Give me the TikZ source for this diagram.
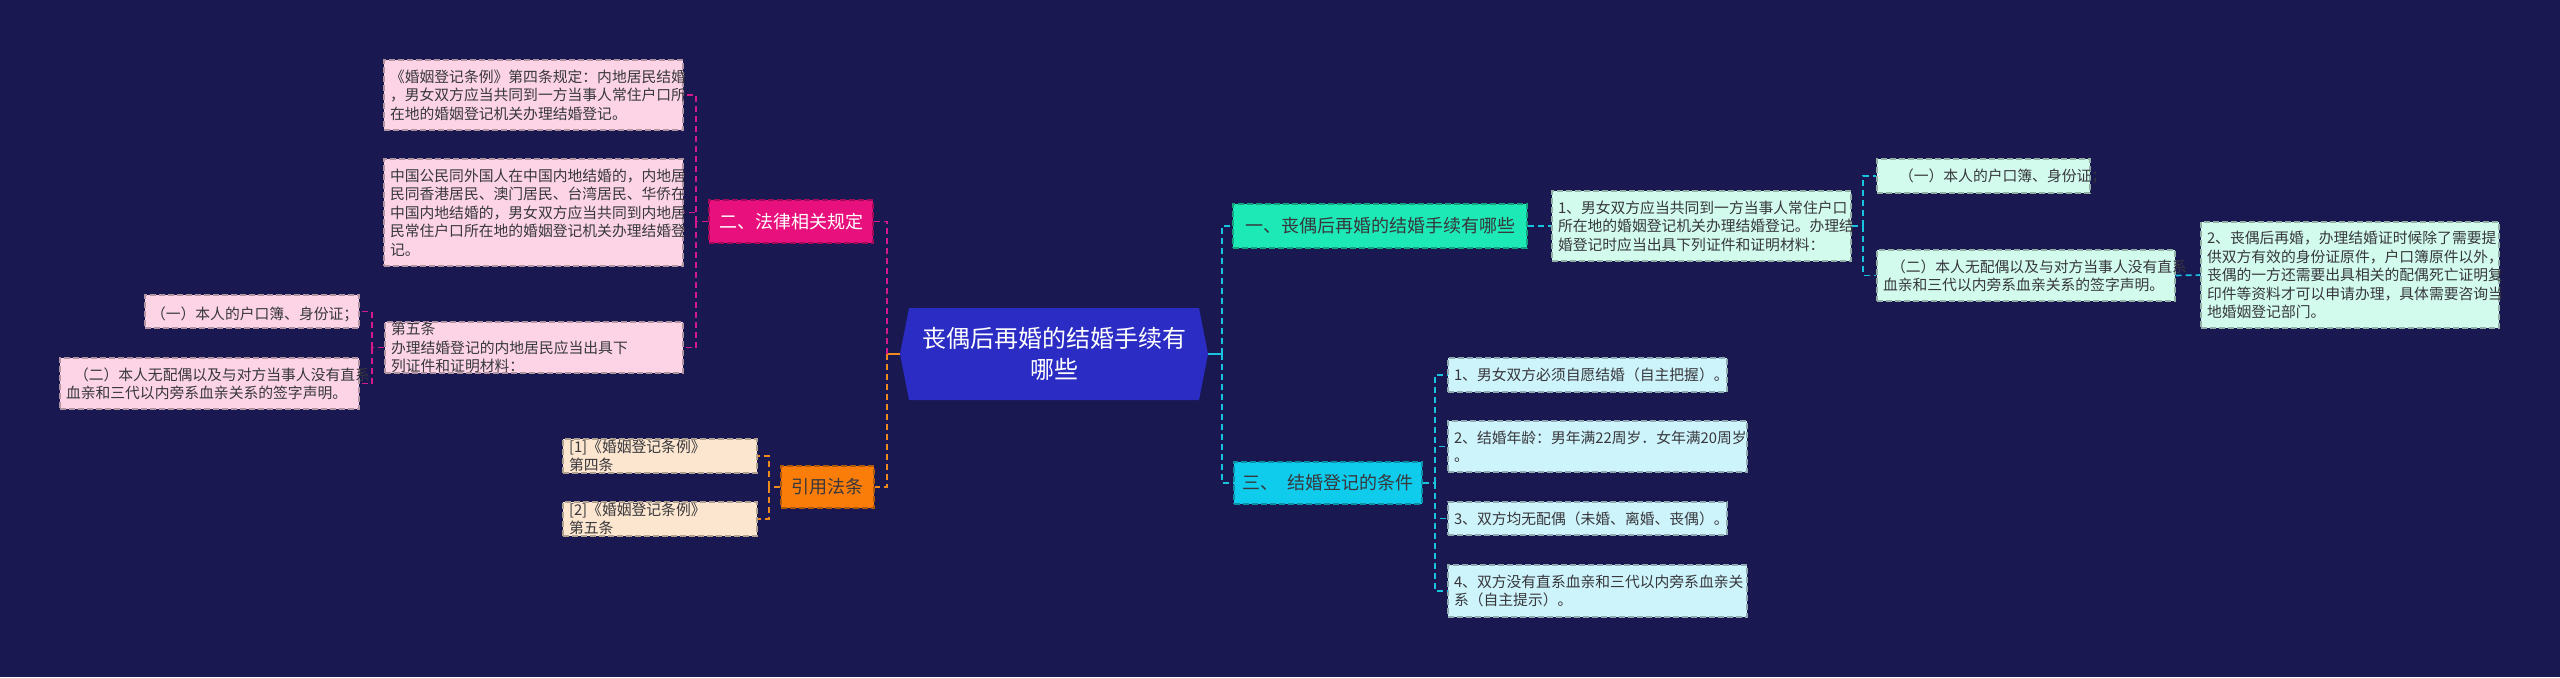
\documentclass[tikz,border=0pt]{standalone}
\usepackage{fontspec}
\setmainfont{Noto Sans CJK SC}
\definecolor{bg}{RGB}{26,24,81}
\definecolor{cmain}{RGB}{43,44,196}
\definecolor{pk}{RGB}{232,16,124}
\definecolor{pkl}{RGB}{252,212,230}
\definecolor{pkline}{RGB}{214,24,138}
\definecolor{og}{RGB}{250,125,10}
\definecolor{ogl}{RGB}{253,230,207}
\definecolor{ogline}{RGB}{240,138,31}
\definecolor{tl}{RGB}{29,233,182}
\definecolor{tll}{RGB}{210,251,238}
\definecolor{cy}{RGB}{16,204,236}
\definecolor{cyl}{RGB}{205,243,251}
\definecolor{cyline}{RGB}{25,195,224}
\definecolor{txt}{RGB}{55,55,60}
\tikzset{
 box/.style={draw=#1!70!black, dashed, dash pattern=on 3pt off 1.5pt, line width=0.6pt, fill=#1, text=txt,
   font=\fontsize{7.4}{9.2}\selectfont, align=left, inner xsep=3pt, inner ysep=0pt, anchor=center},
 branch/.style={draw=#1!70!black, dashed, dash pattern=on 3pt off 1.5pt, line width=0.6pt, fill=#1,
   font=\fontsize{9}{11}\selectfont, inner sep=0pt, anchor=center, align=center},
 conn/.style={draw=#1, dashed, dash pattern=on 3pt off 2pt, line width=0.8pt},
}
\newcommand{\bx}[8]{% name, color, x1, y1, x2, y2, text width(pt), text
 \node[box=#2, minimum width={(#5-#3)*0.5pt}, minimum height={(#6-#4)*0.5pt}, text width=#7pt] (#1) at ({(#3+#5)/2},{(#4+#6)/2}) {#8};}
\begin{document}
\begin{tikzpicture}[x=0.5pt,y=-0.5pt]
\fill[bg] (0,0) rectangle (2560,677);
\useasboundingbox (0,0) rectangle (2560,677);
% center
\fill[cmain] (900,354) -- (909,308) -- (1199,308) -- (1208,354) -- (1199,400) -- (909,400) -- cycle;
\node[minimum width=154pt, minimum height=46pt, inner sep=0pt, text=white, align=center,
  font=\fontsize{12}{15.5}\selectfont] (c) at (1054,354) {丧偶后再婚的结婚手续有\\哪些};
% branches
\node[branch=pk, text=white, minimum width=82pt, minimum height=21.5pt] (law) at (791,221.5) {二、法律相关规定};
\node[branch=og, text=txt, minimum width=46.5pt, minimum height=21pt] (cite) at (827.5,487) {引用法条};
\node[branch=tl, text=txt, minimum width=147pt, minimum height=22pt] (one) at (1380,226) {一、丧偶后再婚的结婚手续有哪些};
\node[branch=cy, text=txt, minimum width=94pt, minimum height=21pt] (three) at (1328,483) {三、\ \ 结婚登记的条件};
% left leaves
\bx{a1}{pkl}{384}{60}{683}{130}{143.5}{《婚姻登记条例》第四条规定：内地居民结婚\\，男女双方应当共同到一方当事人常住户口所\\在地的婚姻登记机关办理结婚登记。}
\bx{a2}{pkl}{384}{159}{683}{266}{143.5}{中国公民同外国人在中国内地结婚的，内地居\\民同香港居民、澳门居民、台湾居民、华侨在\\中国内地结婚的，男女双方应当共同到内地居\\民常住户口所在地的婚姻登记机关办理结婚登\\记。}
\bx{a3}{pkl}{385}{322}{683}{373}{143}{第五条 办理结婚登记的内地居民应当出具下\\列证件和证明材料：}
\bx{b1}{pkl}{145}{295}{359}{328}{101}{\hfill（一）本人的户口簿、身份证；\hspace*{4pt}}
\bx{b2}{pkl}{60}{358}{359}{409}{143.5}{\hspace*{4pt}（二）本人无配偶以及与对方当事人没有直系\\血亲和三代以内旁系血亲关系的签字声明。}
\bx{l1}{ogl}{563}{439}{757}{473}{91}{[1]《婚姻登记条例》 第四条}
\bx{l2}{ogl}{563}{502}{757}{536}{91}{[2]《婚姻登记条例》 第五条}
% right leaves
\bx{r1}{tll}{1552}{191}{1851}{261}{143.5}{1、男女双方应当共同到一方当事人常住户口\\所在地的婚姻登记机关办理结婚登记。办理结\\婚登记时应当出具下列证件和证明材料：}
\bx{r2}{tll}{1877}{159}{2090}{193}{100.5}{\hspace*{8pt}（一）本人的户口簿、身份证；}
\bx{r3}{tll}{1877}{250}{2175}{301}{143}{\hspace*{4pt}（二）本人无配偶以及与对方当事人没有直系\\血亲和三代以内旁系血亲关系的签字声明。}
\bx{r4}{tll}{2201}{222}{2499}{328}{143}{2、丧偶后再婚，办理结婚证时候除了需要提\\供双方有效的身份证原件，户口簿原件以外，\\丧偶的一方还需要出具相关的配偶死亡证明复\\印件等资料才可以申请办理，具体需要咨询当\\地婚姻登记部门。}
\bx{c1}{cyl}{1448}{358}{1727}{392}{133.5}{1、男女双方必须自愿结婚（自主把握）。}
\bx{c2}{cyl}{1448}{421}{1747}{472}{143.5}{2、结婚年龄：男年满22周岁．女年满20周岁\\。}
\bx{c3}{cyl}{1448}{502}{1727}{535}{133.5}{3、双方均无配偶（未婚、离婚、丧偶）。}
\bx{c4}{cyl}{1448}{565}{1747}{617}{143.5}{4、双方没有直系血亲和三代以内旁系血亲关\\系（自主提示）。}
% junctions
\coordinate (jl) at (887,354);
\coordinate (jr) at (1222,354);
\coordinate (sl) at (696,221.5);
\coordinate (sb) at (372,347.5);
\coordinate (sc) at (769,487);
\coordinate (sr) at (1863,226);
\coordinate (s3) at (1435,483);
% connectors
\draw[ogline, line width=1.2pt] (c.west) -- (jl);
\draw[cyline, line width=1.2pt] (c.east) -- (jr);
\draw[conn=ogline] (jl) |- (cite.east);
\draw[conn=pkline] (jl) |- (law.east);
\draw[conn=cyline] (jr) |- (one.west);
\draw[conn=cyline] (jr) |- (three.west);
\draw[conn=pkline] (law.west) -- (sl);
\draw[conn=pkline] (sl) |- (a1.east);
\draw[conn=pkline] (sl) |- (a2.east);
\draw[conn=pkline] (sl) |- (a3.east);
\draw[conn=pkline] (a3.west) -- (sb);
\draw[conn=pkline] (sb) |- (b1.east);
\draw[conn=pkline] (sb) |- (b2.east);
\draw[conn=ogline] (cite.west) -- (sc);
\draw[conn=ogline] (sc) |- (l1.east);
\draw[conn=ogline] (sc) |- (l2.east);
\draw[conn=cyline] (one.east) -- (r1.west);
\draw[conn=cyline] (r1.east) -- (sr);
\draw[conn=cyline] (sr) |- (r2.west);
\draw[conn=cyline] (sr) |- (r3.west);
\draw[conn=cyline] (r3.east) -- (r4.west);
\draw[conn=cyline] (three.east) -- (s3);
\foreach \k in {c1,c2,c3,c4} \draw[conn=cyline] (s3) |- (\k.west);
\end{tikzpicture}
\end{document}
